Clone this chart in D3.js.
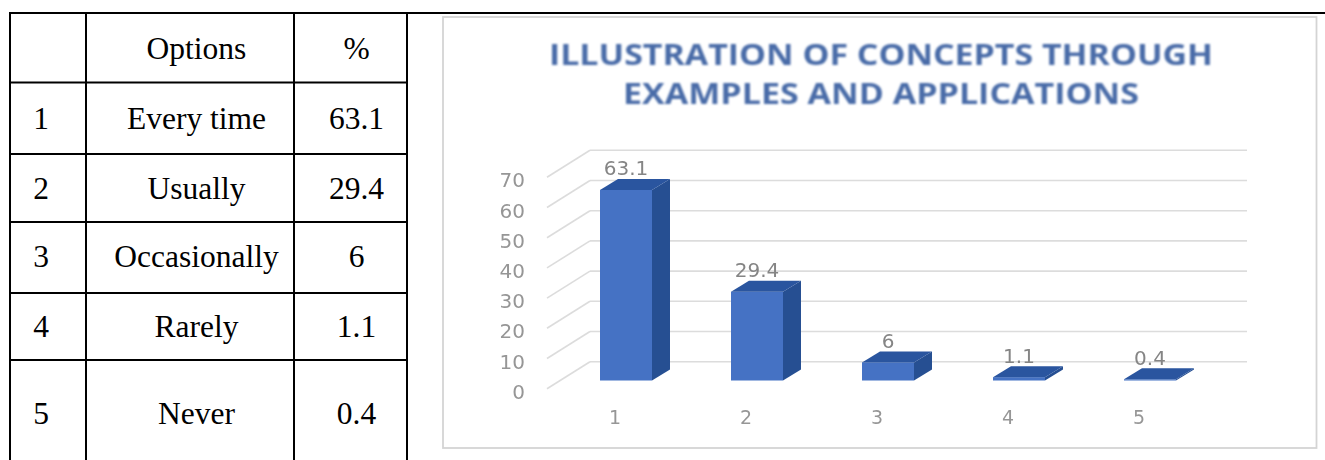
<!DOCTYPE html>
<html><head><meta charset="utf-8">
<style>html,body{margin:0;padding:0;background:#fff;overflow:hidden}svg{display:block}</style>
<script src="https://cdn.jsdelivr.net/npm/d3@7"></script></head>
<body><svg id="c" width="1325" height="460"></svg>
<script>
const rowNumbers = ["1","2","3","4","5"];
const options = ["Every time","Usually","Occasionally","Rarely","Never"];
const percents = [63.1,29.4,6,1.1,0.4];
const percentLabels = ["63.1","29.4","6","1.1","0.4"];
const headers = ["","Options","%"];
const titleLines = ["ILLUSTRATION OF CONCEPTS THROUGH","EXAMPLES AND APPLICATIONS"];
const yTicks = [0,10,20,30,40,50,60,70];

const svg = d3.select("#c");
const defs = svg.append("defs");
defs.append("filter").attr("id","soft").append("feGaussianBlur").attr("stdDeviation",0.6);
defs.append("filter").attr("id","softer").attr("x","-5%").attr("width","110%").append("feGaussianBlur").attr("stdDeviation",0.8);

// table
const colX = [10,86,294,407];
const rowY = [13,82.5,154,222,293,360,470];
const textCX = [41,196.5,356.5];
const textBase = [59,128.5,199,267,337,423.5];
const t = svg.append("g");
const tf = "'Liberation Serif','Times New Roman',serif";
const rows = [headers].concat(options.map((o,i)=>[rowNumbers[i],o,percentLabels[i]]));
rows.forEach((r,ri)=>r.forEach((s,ci)=>{
  t.append("text").attr("x",textCX[ci]).attr("y",textBase[ri]).attr("text-anchor","middle")
   .attr("font-family",tf).attr("font-size",31.5).attr("fill","#000").text(s);
}));
rowY.forEach(y=>t.append("line").attr("x1",colX[0]-1).attr("x2",colX[3]+1).attr("y1",y).attr("y2",y).attr("stroke","#000").attr("stroke-width",2));
colX.forEach(x=>t.append("line").attr("x1",x).attr("x2",x).attr("y1",rowY[0]).attr("y2",rowY[6]).attr("stroke","#000").attr("stroke-width",2));
t.append("line").attr("x1",407).attr("x2",1325).attr("y1",13).attr("y2",13).attr("stroke","#000").attr("stroke-width",2);

// chart panel
const g = svg.append("g").attr("filter","url(#soft)");
g.append("rect").attr("x",443).attr("y",17).attr("width",873.5).attr("height",431).attr("fill","#fff").attr("stroke","#d4d4d4").attr("stroke-width",1.8);

const baseY = 380.5, depthX = 18, depthY = 11;
const y = d3.scaleLinear().domain([0,70]).range([baseY, baseY-211.4]);
const x = d3.scaleBand().domain(rowNumbers).range([600,600+4*131+52]).paddingInner(1-52/131).paddingOuter(0);
const bw = x.bandwidth();

// gridlines on back wall + side wall
const gridX1 = 590, gridX2 = 1247, sideDX = 43, sideDY = 27;
const backY = v => y(v) - 18.8;
const axisFont = "'DejaVu Sans',sans-serif";
yTicks.forEach(v=>{
  g.append("line").attr("x1",gridX1).attr("x2",gridX2).attr("y1",backY(v)).attr("y2",backY(v)).attr("stroke","#dcdcdc").attr("stroke-width",1.6);
  g.append("line").attr("x1",gridX1-sideDX).attr("x2",gridX1).attr("y1",backY(v)+sideDY).attr("y2",backY(v)).attr("stroke","#dcdcdc").attr("stroke-width",1.6);
  g.append("text").attr("x",525).attr("y",backY(v)+sideDY+3).attr("dy","0.35em").attr("text-anchor","end")
   .attr("font-family",axisFont).attr("font-size",20).attr("fill","#969696").text(v);
});

// bars
percents.forEach((v,i)=>{
  const l = x(rowNumbers[i]), r = l+bw, top = y(v);
  g.append("path").attr("fill","#264f92").attr("d",`M${r},${baseY}L${r+depthX},${baseY-depthY}L${r+depthX},${top-depthY}L${r},${top}Z`);
  g.append("rect").attr("x",l).attr("y",top).attr("width",bw).attr("height",baseY-top).attr("fill","#4472c4");
  g.append("path").attr("fill","#2a559f").attr("d",`M${l},${top}L${l+depthX},${top-depthY}L${r+depthX},${top-depthY}L${r},${top}Z`);
  g.append("text").attr("x",l+26).attr("y",top-depthY-3.5).attr("text-anchor","middle")
   .attr("font-family",axisFont).attr("font-size",20).attr("fill","#858585").text(percentLabels[i]);
  g.append("text").attr("x",l+15).attr("y",424).attr("text-anchor","middle")
   .attr("font-family",axisFont).attr("font-size",19).attr("fill","#969696").text(rowNumbers[i]);
});

// title
const tg = svg.append("g").attr("filter","url(#softer)");
const titleBase = [65,103.5], titleW = [664,516];
titleLines.forEach((s,i)=>{
  tg.append("text").attr("x",881).attr("y",titleBase[i]).attr("text-anchor","middle")
   .attr("textLength",titleW[i]).attr("lengthAdjust","spacingAndGlyphs")
   .attr("font-family","'Open Sans',sans-serif").attr("font-weight",700).attr("font-size",28.5).attr("fill","#4a6ca8").text(s);
});
</script></body></html>
